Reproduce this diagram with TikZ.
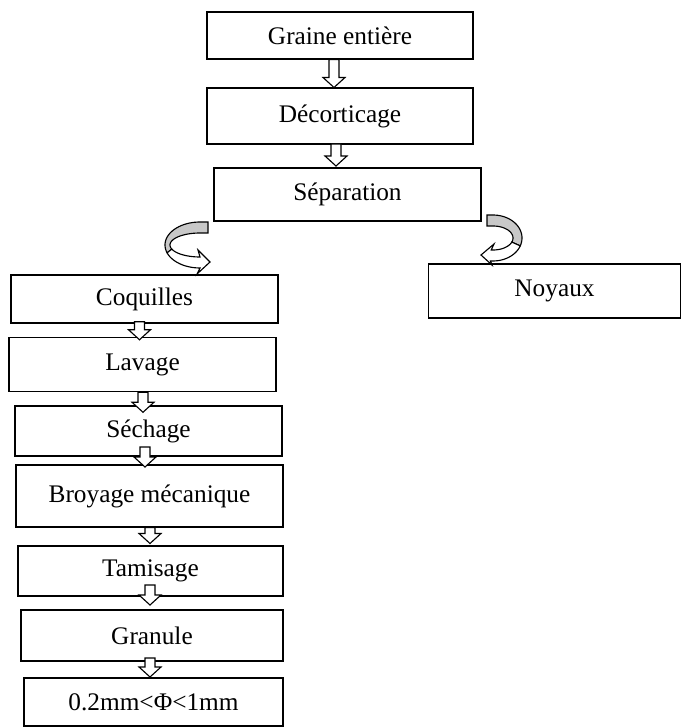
\documentclass[tikz,border=0pt]{standalone}
\usepackage{fontspec}
\setmainfont{Liberation Serif}
\usepackage{tikz}
\usetikzlibrary{calc}
\definecolor{qgray}{HTML}{C8C8C8}
\newcommand{\pxl}{0.025cm}
% hollow down arrow: top node, bottom node, x, half length, y shift
\newcommand{\hollowdown}[5]{%
  \draw[hollow] let \p1=($(#1.south)!0.5!(#2.north)$), \p2=(#3,#5) in
    ({\x2-5*\pxl},{\y1+\y2+#4*\pxl}) -- ({\x2-5*\pxl},{\y1+\y2-(#4-10)*\pxl})
    -- ({\x2-11*\pxl},{\y1+\y2-(#4-10)*\pxl}) -- ({\x2},{\y1+\y2-#4*\pxl})
    -- ({\x2+11*\pxl},{\y1+\y2-(#4-10)*\pxl}) -- ({\x2+5*\pxl},{\y1+\y2-(#4-10)*\pxl})
    -- ({\x2+5*\pxl},{\y1+\y2+#4*\pxl}) -- cycle;}

\begin{document}
\begin{tikzpicture}[x=\pxl, y=-\pxl,
    box/.style={draw, line width=1.2pt, inner sep=0pt, font=\fontsize{18}{21}\selectfont},
    hollow/.style={draw, fill=white, line width=0.8pt, line join=miter},
    twist/.style={draw, line width=0.8pt}]
    \useasboundingbox (0,0) rectangle (682,727);

    % Main line
    \node[box, minimum width=266*\pxl, minimum height=47*\pxl] (graine) at (340,35.5) {Graine entière};
    \node[box, minimum width=266*\pxl, minimum height=56*\pxl] (decort) at (340,116) {Décorticage};
    \node[box, minimum width=267*\pxl, minimum height=53*\pxl] (sep) at (347.5,194.5) {Séparation};
    \node[box, minimum width=252*\pxl, minimum height=54*\pxl] (noyaux) at (554.5,291) {Noyaux};

    % Shell line
    \node[box, minimum width=267*\pxl, minimum height=48*\pxl] (coq) at (144.5,299) {Coquilles};
    \node[box, minimum width=267*\pxl, minimum height=54*\pxl] (lav) at (142.5,364.5) {Lavage};
    \node[box, minimum width=267*\pxl, minimum height=50*\pxl] (sech) at (148.5,431) {Séchage};
    \node[box, minimum width=267*\pxl, minimum height=62*\pxl] (broy) at (149.5,496) {Broyage mécanique};
    \node[box, minimum width=265*\pxl, minimum height=50*\pxl] (tamis) at (150.5,571) {Tamisage};
    \node[box, minimum width=262*\pxl, minimum height=51*\pxl] (gran) at (152,635.5) {Granule};
    \node[box, minimum width=259*\pxl, minimum height=48*\pxl] (taille) at (153.5,702) {0.2mm<Φ<1mm};

    % Arrows
    \hollowdown{graine}{decort}{334}{14}{0}
    \hollowdown{decort}{sep}{336}{11}{-1}
    \hollowdown{coq}{lav}{139.5}{9}{0.5}
    \hollowdown{lav}{sech}{143}{10}{3.5}
    \hollowdown{sech}{broy}{145}{10}{-3.5}
    \hollowdown{broy}{tamis}{150}{8}{-1}
    \hollowdown{tamis}{gran}{150}{10}{-8}
    \hollowdown{gran}{taille}{150}{9.5}{-2}

    % Curved arrow to Coquilles
    \filldraw[twist, fill=qgray] (208,222) -- plot[domain=-90:-200, samples=25] ({200+35*cos(\x)},{245+23*sin(\x)})
        -- plot[domain=-200:-90, samples=25] ({200+30*cos(\x)},{245+12*sin(\x)}) -- (208,233) -- cycle;
    \filldraw[twist, fill=white] plot[domain=160:90, samples=15] ({200+35*cos(\x)},{245+23*sin(\x)})
        -- (197,274) -- (210,262) -- (198,250)
        -- plot[domain=90:160, samples=15] ({200+30*cos(\x)},{245+12*sin(\x)}) -- cycle;

    % Curved arrow to Noyaux
    \filldraw[twist, fill=qgray] (487,215) -- plot[domain=-90:20, samples=25] ({493+29*cos(\x)},{238+23*sin(\x)})
        -- plot[domain=20:-90, samples=25] ({493+20*cos(\x)},{238+12*sin(\x)}) -- (487,226) -- cycle;
    \filldraw[twist, fill=white] plot[domain=20:95, samples=15] ({493+29*cos(\x)},{238+23*sin(\x)})
        -- (492,265) -- (481,255) -- (494,244)
        -- plot[domain=95:20, samples=15] ({493+20*cos(\x)},{238+12*sin(\x)}) -- cycle;
\end{tikzpicture}
\end{document}
